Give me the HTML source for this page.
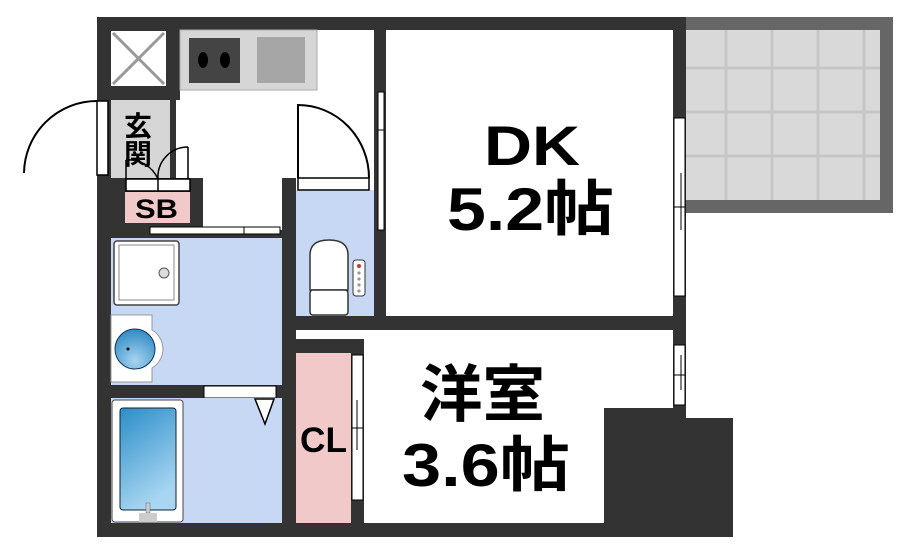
<!DOCTYPE html>
<html><head><meta charset="utf-8"><style>
html,body{margin:0;padding:0;background:#fff;width:910px;height:552px;overflow:hidden}
svg{display:block}
text{font-family:"Liberation Sans","Noto Sans CJK JP",sans-serif;font-weight:bold;fill:#000}
</style></head><body>
<svg width="910" height="552" viewBox="0 0 910 552" xmlns="http://www.w3.org/2000/svg">
<defs>
<linearGradient id="tub" x1="0" y1="0" x2="0.4" y2="1"><stop offset="0" stop-color="#2b8ec8"/><stop offset="1" stop-color="#a8d6f2"/></linearGradient>
<radialGradient id="bowl" cx="0.5" cy="0.8" r="0.8"><stop offset="0" stop-color="#a8d4f0"/><stop offset="1" stop-color="#2f8bc4"/></radialGradient>
</defs>
<!-- balcony -->
<rect x="686" y="17" width="207" height="196" fill="#666"/>
<rect x="686" y="30" width="194" height="170" fill="#d9d9d9"/>
<g stroke="#c6c6c6" stroke-width="3">
<line x1="726" y1="30" x2="726" y2="200"/><line x1="772" y1="30" x2="772" y2="200"/><line x1="818" y1="30" x2="818" y2="200"/><line x1="864" y1="30" x2="864" y2="200"/>
<line x1="686" y1="68" x2="880" y2="68"/><line x1="686" y1="112" x2="880" y2="112"/><line x1="686" y1="156" x2="880" y2="156"/>
</g>
<!-- walls base -->
<g fill="#333">
<rect x="97" y="17" width="589" height="13"/>
<rect x="97" y="17" width="14" height="520"/>
<rect x="97" y="523" width="507" height="14"/>
<rect x="97" y="17" width="83" height="83"/>
<rect x="170" y="100" width="6" height="78"/>
<rect x="111" y="178" width="92" height="52"/>
<rect x="374" y="17" width="12" height="312"/>
<rect x="673" y="17" width="13" height="391"/>
<rect x="282" y="178" width="14" height="359"/>
<rect x="282" y="316" width="404" height="14"/>
<rect x="296" y="339" width="68" height="14"/>
<rect x="351" y="339" width="13" height="198"/>
<rect x="111" y="230" width="171" height="8"/>
<rect x="97" y="385" width="185" height="13"/>
<rect x="604" y="408" width="82" height="129"/>
<rect x="686" y="418" width="47" height="119"/>
</g>
<!-- X closet -->
<rect x="111" y="31" width="55" height="55" fill="#fff"/>
<g stroke="#999" stroke-width="3"><line x1="113" y1="33" x2="164" y2="84"/><line x1="164" y1="33" x2="113" y2="84"/></g>
<!-- genkan -->
<rect x="111" y="100" width="59" height="78" fill="#d6d6d6"/>
<text x="138" y="136" font-size="28" text-anchor="middle">玄</text>
<text x="138" y="164" font-size="28" text-anchor="middle">関</text>
<!-- entrance door -->
<rect x="97" y="101" width="11" height="74" fill="#fff" stroke="#000" stroke-width="1.5"/>
<path d="M97 101 A73 73 0 0 0 24 173" fill="none" stroke="#000" stroke-width="2"/>
<!-- SB -->
<rect x="126" y="179" width="64" height="12" fill="#fff" stroke="#000" stroke-width="1.5"/>
<line x1="158" y1="179" x2="158" y2="191" stroke="#000" stroke-width="1.5"/>
<path d="M126 179 V160 M126 160 A32 32 0 0 1 158 179 M188 147 V179 M188 147 A30 30 0 0 0 158 179" fill="none" stroke="#000" stroke-width="1.5"/>
<rect x="125" y="192" width="65" height="31" fill="#f2c9c9"/>
<text x="135" y="218" font-size="27" textLength="43" lengthAdjust="spacingAndGlyphs">SB</text>
<!-- kitchen counter -->
<rect x="180" y="30" width="137" height="60" fill="#d6d6d6" stroke="#aaa" stroke-width="1"/>
<rect x="189" y="38" width="51" height="45" fill="#444"/>
<ellipse cx="203" cy="60" rx="5" ry="8" fill="#000"/><ellipse cx="225" cy="60" rx="5" ry="8" fill="#000"/>
<rect x="257" y="37" width="48" height="46" fill="#a6a6a6"/>
<!-- kitchen/DK window -->
<rect x="378" y="92" width="6" height="138" fill="#fff" stroke="#000" stroke-width="1"/>
<line x1="378" y1="130" x2="384" y2="130" stroke="#000"/>
<!-- toilet -->
<rect x="296" y="190" width="78" height="126" fill="#c7d8f4"/>
<rect x="298" y="178" width="71" height="12" fill="#fff" stroke="#000" stroke-width="1.5"/>
<path d="M298 178 V105 A71 73 0 0 1 369 178" fill="none" stroke="#000" stroke-width="2"/>
<path d="M310 290 V255 Q310 240 329 240 Q348 240 348 255 V290 Z" fill="#fff" stroke="#333" stroke-width="1.5"/>
<rect x="310" y="290" width="38" height="25" rx="3" fill="#fff" stroke="#333" stroke-width="1.5"/>
<rect x="353" y="260" width="12" height="36" rx="3" fill="#fff" stroke="#333" stroke-width="1"/>
<circle cx="359" cy="266" r="2" fill="#c33"/><circle cx="359" cy="273" r="1.6" fill="#999"/><circle cx="359" cy="279" r="1.6" fill="#999"/><circle cx="359" cy="285" r="1.6" fill="#999"/><circle cx="359" cy="291" r="1.6" fill="#999"/>
<!-- wash sliding door -->
<rect x="150" y="227" width="130" height="7" fill="#fff" stroke="#000" stroke-width="1"/>
<line x1="244" y1="227" x2="244" y2="234" stroke="#000"/>
<!-- washroom -->
<rect x="111" y="238" width="171" height="147" fill="#c7d8f4"/>
<rect x="114" y="241" width="65" height="64" rx="3" fill="#fff" stroke="#444" stroke-width="1.5"/>
<rect x="119" y="245" width="55" height="55" fill="#fff" stroke="#888" stroke-width="1"/>
<circle cx="164" cy="273" r="5" fill="#ddd" stroke="#555"/>
<path d="M111 315 H152 V330 A22 22 0 0 1 152 368 V382 H111 Z" fill="#fff" stroke="#999" stroke-width="1"/>
<circle cx="135" cy="349" r="20" fill="url(#bowl)" stroke="#135" stroke-width="1"/>
<circle cx="128" cy="349" r="1.5" fill="#000"/>
<!-- bath door -->
<rect x="204" y="386" width="72" height="12" fill="#fff" stroke="#000" stroke-width="1"/>
<!-- bath -->
<rect x="111" y="398" width="171" height="125" fill="#c7d8f4"/>
<path d="M255 399 L274 399 L265 424 Z" fill="#fff" stroke="#000" stroke-width="1.5"/>
<rect x="112" y="400" width="71" height="122" rx="3" fill="#fff" stroke="#444" stroke-width="1"/>
<rect x="120" y="408" width="56" height="102" rx="3" fill="url(#tub)" stroke="#123" stroke-width="1"/>
<rect x="146" y="503" width="4" height="10" fill="#ccc" stroke="#666" stroke-width="0.5"/>
<rect x="139" y="513" width="18" height="9" fill="#ccc"/>
<!-- CL -->
<rect x="296" y="353" width="55" height="170" fill="#f2c9c9"/>
<rect x="352" y="355" width="11" height="145" fill="#fff" stroke="#000" stroke-width="1"/>
<line x1="352" y1="428" x2="363" y2="428" stroke="#000"/>
<line x1="357" y1="400" x2="357" y2="450" stroke="#000"/>
<text x="300" y="452" font-size="35" textLength="47" lengthAdjust="spacingAndGlyphs">CL</text>
<!-- right windows -->
<rect x="674" y="118" width="11" height="178" fill="#fff" stroke="#000" stroke-width="1"/>
<line x1="674" y1="207" x2="685" y2="207" stroke="#000"/>
<line x1="681" y1="173" x2="681" y2="230" stroke="#000"/>
<rect x="674" y="345" width="11" height="60" fill="#fff" stroke="#000" stroke-width="1"/>
<line x1="674" y1="375" x2="685" y2="375" stroke="#000"/>
<line x1="681" y1="355" x2="681" y2="390" stroke="#000"/>
<!-- labels -->
<text x="484" y="165" font-size="56" textLength="96" lengthAdjust="spacingAndGlyphs">DK</text>
<text x="447" y="230" font-size="60" textLength="167" lengthAdjust="spacingAndGlyphs">5.2帖</text>
<text x="420" y="416" font-size="62" textLength="125" lengthAdjust="spacingAndGlyphs">洋室</text>
<text x="402" y="486" font-size="60" textLength="168" lengthAdjust="spacingAndGlyphs">3.6帖</text>
</svg>
</body></html>
